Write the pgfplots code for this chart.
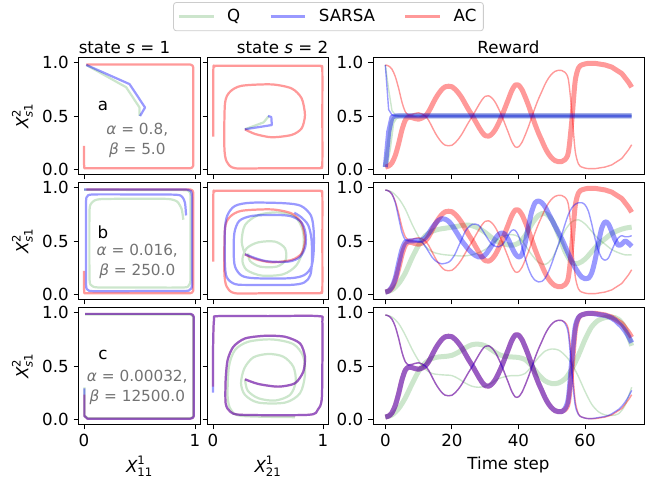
\documentclass[border=0pt]{standalone}
\usepackage{fontspec}
\setmainfont{DejaVu Sans}
\usepackage{amsmath}
\usepackage{pgfplots}
\usepackage{pgfplotstable}
\pgfplotsset{compat=1.18}

\definecolor{qcol}{rgb}{0,0.5,0}
\definecolor{txtgray}{gray}{0.45}
\newcommand\fs{\fontsize{12bp}{14.4bp}\selectfont}
\newcommand\fa{\fontsize{11bp}{14.4bp}\selectfont}

% reward curves: t, thick, thin
\pgfplotstableread{
t a b
0 0.02 0.98
1 0.03 0.97
2 0.06 0.94
3 0.13 0.87
4 0.24 0.76
5 0.37 0.63
6 0.46 0.54
7 0.49 0.51
8 0.485 0.515
9 0.475 0.525
10 0.47 0.53
11 0.48 0.52
12 0.5 0.5
13 0.54 0.46
14 0.6 0.4
15 0.66 0.34
16 0.71 0.29
17 0.75 0.25
18 0.775 0.225
19 0.78 0.22
20 0.775 0.225
21 0.75 0.25
22 0.715 0.285
23 0.67 0.33
24 0.615 0.385
25 0.56 0.44
26 0.51 0.49
27 0.455 0.545
28 0.4 0.6
29 0.35 0.65
30 0.315 0.685
31 0.31 0.69
32 0.33 0.67
33 0.37 0.63
34 0.43 0.57
35 0.5 0.5
36 0.58 0.42
37 0.66 0.34
38 0.74 0.26
39 0.79 0.21
40 0.79 0.21
41 0.75 0.25
42 0.68 0.32
43 0.6 0.4
44 0.51 0.49
45 0.42 0.58
46 0.34 0.66
47 0.27 0.73
48 0.2 0.8
49 0.145 0.855
50 0.105 0.895
51 0.08 0.92
52 0.07 0.93
53 0.072 0.928
54 0.09 0.91
55 0.16 0.84
56 0.45 0.55
57 0.82 0.18
58 0.95 0.05
59 0.98 0.02
60 0.99 0.01
61 0.995 0.005
62 0.995 0.005
63 0.995 0.005
64 0.99 0.01
65 0.985 0.015
66 0.98 0.02
67 0.97 0.03
68 0.96 0.04
69 0.94 0.06
70 0.92 0.08
71 0.9 0.1
72 0.86 0.14
73 0.82 0.18
74 0.77 0.23
}\acrew

\pgfplotstableread{
t a b
0 0.02 0.98
1 0.35 0.56
2 0.49 0.51
3 0.5 0.5
74 0.5 0.5
}\saone

\pgfplotstableread{
t a b
0 0.02 0.98
1 0.2 0.75
2 0.44 0.55
3 0.49 0.51
4 0.5 0.5
74 0.5 0.5
}\qone

\pgfplotstableread{
t a b
0 0.02 0.98
1 0.03 0.97
2 0.07 0.94
3 0.15 0.86
4 0.29 0.72
5 0.42 0.58
6 0.49 0.51
7 0.5 0.5
8 0.5 0.5
9 0.505 0.5
10 0.505 0.495
11 0.51 0.49
12 0.53 0.45
13 0.57 0.4
14 0.62 0.35
15 0.66 0.315
16 0.695 0.295
17 0.71 0.285
18 0.705 0.29
19 0.685 0.3
20 0.65 0.33
21 0.6 0.38
22 0.55 0.45
23 0.5 0.52
24 0.46 0.59
25 0.42 0.63
26 0.39 0.655
27 0.365 0.66
28 0.35 0.65
29 0.35 0.61
30 0.37 0.56
31 0.41 0.51
32 0.46 0.47
33 0.52 0.45
34 0.56 0.445
35 0.575 0.46
36 0.56 0.5
37 0.51 0.56
38 0.44 0.6
39 0.38 0.6
40 0.35 0.55
41 0.37 0.45
42 0.48 0.34
43 0.64 0.24
44 0.78 0.17
45 0.86 0.13
46 0.875 0.115
47 0.86 0.12
48 0.82 0.15
49 0.76 0.21
50 0.7 0.29
51 0.64 0.38
52 0.58 0.47
53 0.52 0.56
54 0.45 0.66
55 0.38 0.75
56 0.31 0.81
57 0.25 0.845
58 0.2 0.86
59 0.16 0.86
60 0.145 0.84
61 0.15 0.78
62 0.2 0.66
63 0.32 0.52
64 0.48 0.41
65 0.62 0.34
66 0.68 0.32
67 0.66 0.34
68 0.59 0.41
69 0.51 0.48
70 0.46 0.53
71 0.47 0.55
72 0.5 0.54
73 0.48 0.54
74 0.45 0.55
}\satwo

\pgfplotstableread{
t a b
0 0.02 0.98
2 0.04 0.96
4 0.1 0.9
6 0.2 0.8
8 0.34 0.66
10 0.46 0.54
12 0.55 0.45
14 0.59 0.4
16 0.61 0.38
18 0.62 0.37
20 0.63 0.365
22 0.64 0.36
24 0.65 0.36
26 0.645 0.37
28 0.62 0.39
30 0.58 0.42
32 0.53 0.47
34 0.49 0.52
36 0.47 0.55
38 0.46 0.56
40 0.48 0.54
42 0.55 0.46
44 0.66 0.37
46 0.74 0.3
48 0.76 0.28
50 0.7 0.33
52 0.56 0.46
54 0.4 0.6
56 0.3 0.68
58 0.29 0.7
60 0.33 0.66
62 0.4 0.59
64 0.47 0.52
66 0.52 0.47
68 0.57 0.42
70 0.6 0.39
72 0.62 0.37
74 0.63 0.37
}\qtwo

\pgfplotstableread{
t a b
0 0.02 0.98
1 0.03 0.97
2 0.06 0.94
3 0.13 0.87
4 0.24 0.76
5 0.37 0.63
6 0.46 0.54
7 0.49 0.51
8 0.485 0.515
9 0.475 0.525
10 0.47 0.53
11 0.48 0.52
12 0.5 0.5
13 0.54 0.46
14 0.6 0.4
15 0.66 0.34
16 0.71 0.29
17 0.75 0.25
18 0.775 0.225
19 0.78 0.22
20 0.775 0.225
21 0.75 0.25
22 0.715 0.285
23 0.67 0.33
24 0.615 0.385
25 0.56 0.44
26 0.51 0.49
27 0.455 0.545
28 0.4 0.6
29 0.35 0.65
30 0.315 0.685
31 0.31 0.69
32 0.33 0.67
33 0.37 0.63
34 0.43 0.57
35 0.5 0.5
36 0.58 0.42
37 0.66 0.34
38 0.74 0.26
39 0.79 0.21
40 0.79 0.21
41 0.75 0.25
42 0.68 0.32
43 0.6 0.4
44 0.51 0.49
45 0.42 0.58
46 0.34 0.66
47 0.27 0.73
48 0.2 0.8
49 0.145 0.855
50 0.105 0.895
51 0.08 0.92
52 0.07 0.93
53 0.072 0.928
54 0.1 0.9
55 0.2 0.8
56 0.55 0.45
57 0.86 0.14
58 0.955 0.045
59 0.98 0.02
60 0.99 0.01
61 0.995 0.005
62 0.995 0.005
63 0.99 0.01
64 0.985 0.015
65 0.98 0.02
66 0.975 0.025
67 0.965 0.035
68 0.95 0.05
69 0.93 0.07
70 0.9 0.09
71 0.87 0.12
72 0.83 0.16
73 0.78 0.21
74 0.72 0.27
}\sathree

\pgfplotstableread{
t a b
0 0.02 0.98
2 0.04 0.96
4 0.1 0.9
6 0.2 0.79
8 0.33 0.66
10 0.45 0.55
12 0.53 0.47
14 0.57 0.43
16 0.585 0.42
18 0.59 0.415
20 0.6 0.41
22 0.63 0.38
24 0.67 0.34
26 0.7 0.31
28 0.705 0.3
30 0.69 0.31
32 0.65 0.34
34 0.61 0.38
36 0.59 0.4
38 0.585 0.41
40 0.58 0.41
42 0.56 0.43
44 0.5 0.5
46 0.42 0.58
48 0.36 0.64
50 0.335 0.66
52 0.34 0.65
54 0.38 0.6
56 0.47 0.52
58 0.6 0.4
60 0.75 0.26
62 0.87 0.14
64 0.93 0.07
66 0.955 0.04
68 0.96 0.035
70 0.94 0.05
72 0.86 0.13
74 0.69 0.3
}\qthree

\pgfplotsset{
  base/.style={scale only axis, height=84.24bp, clip=false,
    tick align=outside, tick pos=left, major tick length=3.5bp,
    every tick/.style={black, line width=0.6bp},
    axis line style={line width=0.6bp},
    tick label style={font=\fs}, label style={font=\fs}, title style={font=\fs},
    /pgf/number format/assume math mode=true,
    ymin=-0.05, ymax=1.05, ytick={0,0.5,1},
    yticklabel style={/pgf/number format/.cd, fixed, fixed zerofill, precision=1},
    every axis plot/.append style={mark=none, line join=round}},
  st1/.style={base, width=87.84bp, xmin=-0.05, xmax=1.05, xtick={0,1},
    ylabel={$\textit{X}^{\textrm{2}}_{\textit{s}\textrm{1}}$}},
  st2/.style={base, width=87.12bp, xmin=-0.05, xmax=1.05, xtick={0,1}, yticklabels={}},
  rw/.style={base, width=195.12bp, xmin=-3.7, xmax=77.7, xtick={0,20,40,60}},
  qs/.style={qcol, opacity=0.2, line width=1.6bp},
  as/.style={red, opacity=0.4, line width=1.6bp},
  ss/.style={blue, opacity=0.4, line width=1.6bp},
  qk/.style={qcol, opacity=0.2, line width=3.6bp},
  qn/.style={qcol, opacity=0.2, line width=1bp},
  ak/.style={red, opacity=0.4, line width=3.6bp},
  an/.style={red, opacity=0.4, line width=1bp},
  sk/.style={blue, opacity=0.4, line width=3.6bp},
  sn/.style={blue, opacity=0.4, line width=1bp},
}

\newcommand\accolone{\addplot[as] coordinates {(0.02,0.985) (0.5,0.985) (0.955,0.985) (0.978,0.975) (0.985,0.955) (0.985,0.5) (0.985,0.035) (0.975,0.015) (0.955,0.008) (0.5,0.008) (0.003,0.008) (0.0,0.05) (0.0,0.22)};}
\newcommand\accoltwo{\addplot[as, smooth, tension=0.45] coordinates {(0.003,0.306) (0.003,0.931) (0.015,0.962) (0.042,0.972) (0.5,0.972) (0.958,0.972) (0.985,0.962) (0.994,0.931) (0.994,0.5) (0.994,0.056) (0.985,0.022) (0.958,0.009) (0.5,0.009) (0.2,0.009) (0.124,0.072) (0.103,0.2125) (0.109,0.619) (0.155,0.728) (0.26,0.784) (0.533,0.797) (0.715,0.759) (0.806,0.666) (0.836,0.509) (0.806,0.384) (0.715,0.322) (0.533,0.3) (0.382,0.331) (0.29,0.375)};}

\begin{document}
\begin{tikzpicture}
\useasboundingbox (0,0) rectangle (474.48bp,347.76bp);

% ---- row 1 ----
\begin{axis}[st1, at={(56.52bp,222.12bp)}, xticklabels={},
  title={state \textit{s} = 1}, title style={at={(0,1)}, anchor=base west, inner sep=0pt, yshift=-3bp},
  legend columns=3,
  legend style={at={(2.049,1.474)}, anchor=north, draw=black!20, rounded corners=2bp, line width=0.6bp,
    font=\fs, inner xsep=3bp, inner ysep=3bp, nodes={inner xsep=2bp},
    /tikz/every odd column/.append style={column sep=7bp},
    /tikz/every even column/.append style={column sep=19bp}},
  legend image code/.code={\draw[#1, line width=1.6bp] (0bp,0bp) -- (25bp,0bp);}]
\addlegendimage{qcol, opacity=0.2}\addlegendentry{Q}
\addlegendimage{blue, opacity=0.4}\addlegendentry{SARSA}
\addlegendimage{red, opacity=0.4}\addlegendentry{AC}
\addplot[qs] coordinates {(0.02,0.98) (0.38,0.77) (0.5,0.58) (0.5,0.5)};
\accolone
\addplot[ss] coordinates {(0.02,0.98) (0.41,0.80) (0.55,0.58) (0.505,0.5)};
\node[font=\fs] at (axis cs:0.17,0.59) {a};
\node[font=\fa, text=txtgray, align=center] at (axis cs:0.48,0.268) {\textit{α} = 0.8,\\\textit{β} = 5.0};
\end{axis}

\begin{axis}[st2, at={(149.4bp,222.12bp)}, xticklabels={},
  title={state \textit{s} = 2}, title style={at={(1,1)}, anchor=base east, inner sep=0pt, yshift=-3bp}]
\addplot[qs] coordinates {(0.29,0.375) (0.46,0.44) (0.5,0.49) (0.5,0.5)};
\accoltwo
\addplot[ss] coordinates {(0.29,0.375) (0.535,0.415) (0.53,0.49) (0.5,0.5)};
\end{axis}

\begin{axis}[rw, at={(268.56bp,222.12bp)}, xticklabels={},
  title={Reward}, title style={at={(0.5,1)}, anchor=base, inner sep=0pt, yshift=-3bp}]
\addplot[qk] table[x=t,y=a]{\qone};
\addplot[qn] table[x=t,y=b]{\qone};
\addplot[ak, smooth] table[x=t,y=a]{\acrew};
\addplot[an, smooth] table[x=t,y=b]{\acrew};
\addplot[sk] table[x=t,y=a]{\saone};
\addplot[sn] table[x=t,y=b]{\saone};
\end{axis}

% ---- row 2 ----
\begin{axis}[st1, at={(56.52bp,132.12bp)}, xticklabels={}]
\addplot[qs, smooth, tension=0.4] coordinates {(0,0.982) (0.5,0.98) (0.9,0.978) (0.945,0.965) (0.96,0.92) (0.96,0.5) (0.96,0.14) (0.945,0.085) (0.9,0.063) (0.5,0.0625) (0.13,0.063) (0.07,0.08) (0.05,0.13) (0.048,0.5) (0.05,0.8) (0.07,0.86) (0.14,0.893) (0.5,0.897) (0.76,0.895) (0.84,0.87) (0.88,0.8) (0.895,0.70)};
\accolone
\addplot[ss, smooth, tension=0.4] coordinates {(0,0.984) (0.5,0.984) (0.9,0.984) (0.95,0.975) (0.972,0.93) (0.973,0.5) (0.973,0.09) (0.955,0.045) (0.91,0.03) (0.5,0.029) (0.09,0.028) (0.035,0.04) (0.018,0.09) (0.018,0.5) (0.018,0.87) (0.03,0.92) (0.08,0.9375) (0.5,0.9375) (0.83,0.935) (0.885,0.915) (0.91,0.86) (0.92,0.74)};
\node[font=\fs] at (axis cs:0.17,0.584) {b};
\node[font=\fa, text=txtgray, align=center] at (axis cs:0.48,0.305) {\textit{α} = 0.016,\\\textit{β} = 250.0};
\end{axis}

\begin{axis}[st2, at={(149.4bp,132.12bp)}, xticklabels={}]
\addplot[qs, smooth, tension=0.5] coordinates {(0.291,0.375) (0.261,0.494) (0.291,0.65) (0.412,0.744) (0.594,0.769) (0.745,0.728) (0.815,0.603) (0.821,0.431) (0.761,0.275) (0.639,0.1875) (0.442,0.175) (0.306,0.228) (0.267,0.322) (0.306,0.431) (0.412,0.4875) (0.564,0.494) (0.655,0.431) (0.661,0.322) (0.579,0.259) (0.427,0.259) (0.336,0.3125) (0.321,0.384)};
\accoltwo
\addplot[ss, smooth, tension=0.5] coordinates {(0.291,0.375) (0.473,0.3125) (0.685,0.306) (0.79,0.35) (0.84,0.45) (0.84,0.58) (0.8,0.68) (0.7,0.735) (0.533,0.745) (0.35,0.735) (0.24,0.69) (0.195,0.58) (0.188,0.4) (0.2,0.26) (0.26,0.175) (0.382,0.15) (0.7,0.15) (0.83,0.18) (0.895,0.26) (0.915,0.4) (0.915,0.6) (0.89,0.74) (0.8,0.83) (0.65,0.855) (0.35,0.86) (0.2,0.83) (0.13,0.74) (0.108,0.6) (0.108,0.3) (0.125,0.16) (0.2,0.095) (0.35,0.087) (0.7,0.087) (0.83,0.11) (0.885,0.18) (0.9,0.32) (0.895,0.52) (0.865,0.65) (0.8,0.725) (0.739,0.766)};
\end{axis}

\begin{axis}[rw, at={(268.56bp,132.12bp)}, xticklabels={}]
\addplot[qk, smooth] table[x=t,y=a]{\qtwo};
\addplot[qn, smooth] table[x=t,y=b]{\qtwo};
\addplot[ak, smooth] table[x=t,y=a]{\acrew};
\addplot[an, smooth] table[x=t,y=b]{\acrew};
\addplot[sk, smooth] table[x=t,y=a]{\satwo};
\addplot[sn, smooth] table[x=t,y=b]{\satwo};
\end{axis}

% ---- row 3 ----
\begin{axis}[st1, at={(56.52bp,42.12bp)}, xlabel={$\textit{X}^{\textrm{1}}_{\textrm{11}}$}]
\addplot[qs] coordinates {(0.01,0.985) (0.5,0.985) (0.955,0.985) (0.975,0.975) (0.985,0.955) (0.985,0.5) (0.985,0.035) (0.975,0.015) (0.955,0.01) (0.5,0.01) (0.03,0.01) (0.005,0.035) (0.005,0.3)};
\addplot[as] coordinates {(0.01,0.99) (0.5,0.99) (0.96,0.99) (0.98,0.98) (0.99,0.96) (0.99,0.5) (0.99,0.03) (0.98,0.012) (0.96,0.005) (0.5,0.005) (0.03,0.005) (0.003,0.03) (0.003,0.23)};
\addplot[ss] coordinates {(0.01,0.99) (0.5,0.99) (0.96,0.99) (0.98,0.98) (0.99,0.96) (0.99,0.5) (0.99,0.03) (0.98,0.012) (0.96,0.005) (0.5,0.005) (0.03,0.005) (0.003,0.03) (0.003,0.29)};
\node[font=\fs] at (axis cs:0.17,0.6) {c};
\node[font=\fa, text=txtgray, align=center] at (axis cs:0.48,0.30) {\textit{α} = 0.00032,\\\textit{β} = 12500.0};
\end{axis}

\begin{axis}[st2, at={(149.4bp,42.12bp)}, xlabel={$\textit{X}^{\textrm{1}}_{\textrm{21}}$}]
\addplot[qs, smooth, tension=0.5] coordinates {(0.291,0.375) (0.315,0.269) (0.412,0.197) (0.564,0.175) (0.7,0.228) (0.752,0.353) (0.73,0.494) (0.639,0.588) (0.503,0.613) (0.367,0.581) (0.285,0.478) (0.255,0.3375) (0.291,0.228) (0.412,0.156) (0.655,0.156) (0.791,0.244) (0.836,0.416) (0.821,0.5875) (0.73,0.706) (0.533,0.75) (0.321,0.728) (0.2,0.65) (0.145,0.494) (0.133,0.2125) (0.164,0.0875) (0.261,0.031) (0.745,0.019)};
\addplot[as, smooth, tension=0.45] coordinates {(0.291,0.375) (0.412,0.331) (0.594,0.306) (0.745,0.3375) (0.821,0.447) (0.836,0.5875) (0.791,0.7125) (0.655,0.775) (0.473,0.784) (0.291,0.759) (0.185,0.681) (0.133,0.556) (0.115,0.369) (0.115,0.15) (0.155,0.072) (0.261,0.041) (0.867,0.041) (0.952,0.0875) (0.988,0.181) (0.994,0.5) (0.994,0.916) (0.958,0.969) (0.5,0.969) (0.048,0.969) (0.009,0.931) (0.0,0.619) (0.0,0.306)};
\addplot[ss, smooth, tension=0.45] coordinates {(0.291,0.375) (0.412,0.331) (0.594,0.306) (0.745,0.3375) (0.821,0.447) (0.836,0.5875) (0.791,0.7125) (0.655,0.775) (0.473,0.784) (0.291,0.759) (0.185,0.681) (0.133,0.556) (0.115,0.369) (0.115,0.15) (0.155,0.072) (0.261,0.041) (0.867,0.041) (0.952,0.0875) (0.988,0.181) (0.994,0.5) (0.994,0.916) (0.958,0.969) (0.5,0.969) (0.048,0.969) (0.009,0.931) (0.0,0.619) (0.0,0.25)};
\end{axis}

\begin{axis}[rw, at={(268.56bp,42.12bp)}, xlabel={Time step}]
\addplot[qk, smooth] table[x=t,y=a]{\qthree};
\addplot[qn, smooth] table[x=t,y=b]{\qthree};
\addplot[ak, smooth] table[x=t,y=a]{\acrew};
\addplot[an, smooth] table[x=t,y=b]{\acrew};
\addplot[sk, smooth] table[x=t,y=a]{\sathree};
\addplot[sn, smooth] table[x=t,y=b]{\sathree};
\end{axis}
\end{tikzpicture}
\end{document}
